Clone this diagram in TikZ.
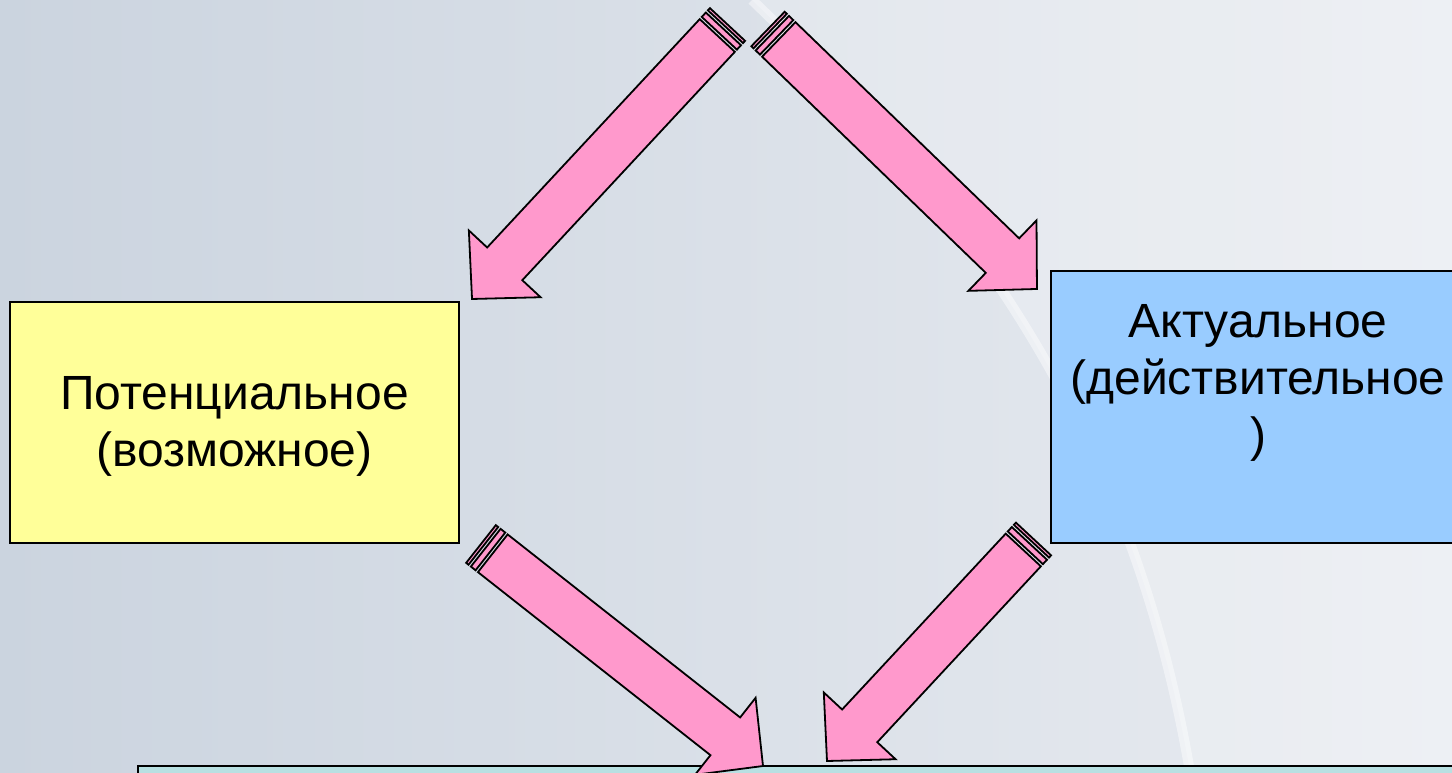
\documentclass[tikz,border=0pt]{standalone}
\usepackage{fontspec}
\setmainfont{Liberation Sans}
\usetikzlibrary{calc}
\definecolor{bgl}{RGB}{203,212,223}
\definecolor{bgr}{RGB}{233,236,241}
\definecolor{ybox}{RGB}{255,255,153}
\definecolor{bbox}{RGB}{153,204,255}
\definecolor{tbox}{RGB}{184,224,226}
\definecolor{pinkarrow}{RGB}{255,153,204}
\tikzset{
  conceptbox/.style={draw=black, line width=2.4pt, inner sep=0pt},
  boxtext/.style={align=center, inner sep=0pt, font=\fontsize{48}{57}\selectfont},
  arrowpaint/.style={fill=pinkarrow, draw=black, line width=1.8pt, line join=miter},
}
\newcommand\stripedarrow[2]{%
  \pgfpointdiff{\pgfpointanchor{#1}{center}}{\pgfpointanchor{#2}{center}}%
  \pgfgetlastxy{\sadx}{\sady}%
  \pgfmathsetmacro\saang{atan2(\sady,\sadx)}%
  \pgfmathsetmacro\salen{veclen(\sadx,\sady)}%
  \pgfmathsetmacro\saneck{\salen-48}%
  \begin{scope}[shift={(#1)},rotate=\saang,x=1pt,y=1pt]
    \draw[arrowpaint] (0,-24) rectangle (3,24);
    \draw[arrowpaint] (6,-24) rectangle (12,24);
    \draw[arrowpaint] (15,-24) -- (\saneck,-24) -- (\saneck,-49) -- (\salen,0)
      -- (\saneck,49) -- (\saneck,24) -- (15,24) -- cycle;
  \end{scope}}
\begin{document}
\begin{tikzpicture}[x=1pt,y=-1pt]
  \useasboundingbox (0,0) rectangle (1452,772);
  \clip (0,0) rectangle (1452,772);
  % background
  \shade[left color=bgl, right color=bgr] (0,0) rectangle (1452,772);
  \fill[white, opacity=0.22] (752,0) .. controls (960,200) and (1130,420) .. (1190,772)
    -- (1452,772) -- (1452,0) -- cycle;
  \draw[white, opacity=0.45, line width=10pt] (752,0) .. controls (960,200) and (1130,420) .. (1190,772);
  % boxes
  \node[conceptbox, fill=ybox, minimum width=449pt, minimum height=241pt] (pot) at (234.5,422.5) {};
  \node[boxtext] (pottext) at (234.5,426.8) {Потенциальное\\(возможное)};
  \node[conceptbox, fill=bbox, minimum width=419pt, minimum height=272pt] (act) at (1260.5,407) {};
  \node[boxtext] (acttext) at (1258,382.8) {Актуальное\\(действительное\\)};
  \node[conceptbox, fill=tbox, minimum width=1362pt, minimum height=60pt] (res) at (819,796) {};
  % arrow ends
  \coordinate (a1t) at (727.5,24.5);
  \coordinate (a1h) at (472,299);
  \coordinate (a2t) at (768,29);
  \coordinate (a2h) at (1037,289);
  \coordinate (a3t) at (481,544);
  \coordinate (a3h) at (763,766);
  \coordinate (a4t) at (1033.5,539);
  \coordinate (a4h) at (827,761);
  \stripedarrow{a1t}{a1h}
  \stripedarrow{a2t}{a2h}
  \stripedarrow{a3t}{a3h}
  \stripedarrow{a4t}{a4h}
\end{tikzpicture}
\end{document}
